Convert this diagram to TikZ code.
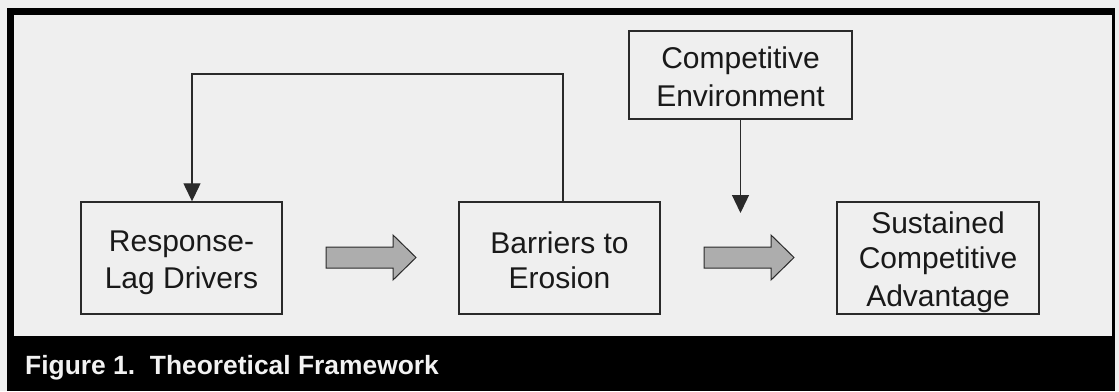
\documentclass[tikz,border=0pt]{standalone}
\usepackage{fontspec}
\setmainfont{Liberation Sans}
\usetikzlibrary{arrows.meta}
\definecolor{bgc}{HTML}{EFEFEF}
\definecolor{linec}{HTML}{2A2A2A}
\definecolor{blockc}{HTML}{ADADAD}
\definecolor{capc}{HTML}{F2F2F2}
\newcommand{\mystrut}{\rule[-5pt]{0pt}{35pt}}
\tikzset{
  box/.style={draw=linec, line width=1.4pt, inner sep=0pt, align=center,
    text=black!90, font=\fontsize{30}{35}\selectfont},
  conn/.style={draw=linec, line width=1.3pt,
    -{Triangle[width=17pt,length=18pt]}},
  blockarrow/.style={fill=blockc, draw=linec, line width=1pt, line join=miter}
}
\begin{document}
\begin{tikzpicture}[x=1pt,y=-1pt]
\useasboundingbox (0,0) rectangle (1119,391);
\fill[bgc] (0,0) rectangle (1119,391);
% frame
\fill[black] (7,8) rectangle (1115,391);
\fill[bgc] (14,15) rectangle (1112,336);
% boxes
\node[box, minimum width=201pt, minimum height=112pt] (resp) at (181.5,258) {\mystrut Response-\\\mystrut Lag Drivers};
\node[box, minimum width=201pt, minimum height=112pt] (barr) at (559.5,258) {\mystrut Barriers to\\\mystrut Erosion};
\node[box, minimum width=223pt, minimum height=88pt] (comp) at (740.5,75) {\mystrut Competitive\\\mystrut Environment};
\node[box, minimum width=202pt, minimum height=112pt] (sust) at (938,258) {\mystrut Sustained\\\mystrut Competitive\\\mystrut Advantage};
% feedback connector
\coordinate (loop) at (192,74);
\draw[conn] ([xshift=3.5pt]barr.north) |- (loop) -- ([xshift=10.5pt]resp.north);
% environment connector
\coordinate (envtip) at (740.5,213);
\draw[conn] (comp.south) -- (envtip);
% block arrows
\draw[blockarrow] (326,247) -- (393,247) -- (393,235) -- (416,257.5) -- (393,280) -- (393,268) -- (326,268) -- cycle;
\draw[blockarrow] (704,247) -- (771,247) -- (771,235) -- (794,257.5) -- (771,280) -- (771,268) -- (704,268) -- cycle;
% caption
\node[anchor=base west, inner sep=0pt, text=capc, font=\fontsize{26.4}{30}\selectfont\bfseries] (cap) at (25,374) {Figure 1.\ \ Theoretical Framework};
\end{tikzpicture}
\end{document}
